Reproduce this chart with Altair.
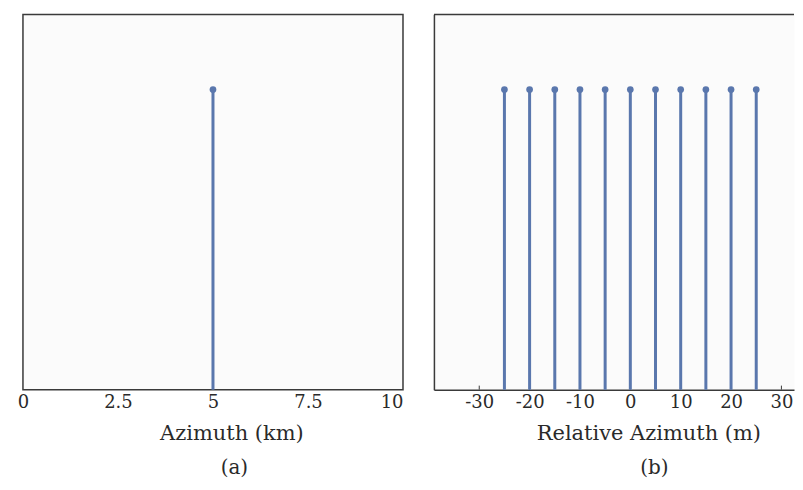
import altair as alt
import pandas as pd

# ---- data ----
azimuth_a = [5]
amp_a = [0.8]
azimuth_b = [-25, -20, -15, -10, -5, 0, 5, 10, 15, 20, 25]
amp_b = [0.8, 0.8, 0.8, 0.8, 0.8, 0.8, 0.8, 0.8, 0.8, 0.8, 0.8]
ticks_a = [0, 2.5, 5, 7.5, 10]
ticks_b = [-30, -20, -10, 0, 10, 20, 30]
xtitle_a = "Azimuth (km)"
xtitle_b = "Relative Azimuth (m)"

STEM = "#5a77ad"
FRAME = "#3a3a3a"
FONT = "DejaVu Serif"
TXT = "#2a2a2a"
BG = "#fbfbfb"

W_A, W_B, H = 381, 361, 376

dfa = pd.DataFrame({"x": azimuth_a, "y": amp_a})
dfb = pd.DataFrame({"x": azimuth_b, "y": amp_b})
dft = pd.DataFrame({"x": [t for t in ticks_b if -39 <= t <= 32.5]})
dfone = pd.DataFrame({"k": [0]})

yscale = alt.Scale(domain=[0, 1], nice=False, zero=True)

# ---- panel a ----
xa_scale = alt.Scale(domain=[0, 10], nice=False, zero=False)
xa_axis = alt.Axis(
    values=ticks_a, format=".1~f", title=xtitle_a, grid=False, ticks=False, domain=False,
    labelAlign=alt.ExprRef(expr="datum.value == 10 ? 'right' : 'center'"),
    labelPadding=4, titlePadding=11, titleX=209,
    labelFont=FONT, titleFont=FONT, labelFontSize=18, titleFontSize=21,
    titleFontWeight="normal", labelColor=TXT, titleColor=TXT,
)
stems_a = alt.Chart(dfa).mark_rule(color=STEM, strokeWidth=3).encode(
    x=alt.X("x:Q", scale=xa_scale, axis=xa_axis),
    y=alt.Y("y:Q", scale=yscale, axis=None),
    y2=alt.datum(0),
)
dots_a = alt.Chart(dfa).mark_circle(color=STEM, size=45, opacity=1).encode(
    x=alt.X("x:Q", scale=xa_scale, axis=xa_axis),
    y=alt.Y("y:Q", scale=yscale, axis=None),
)
panel_a = alt.layer(stems_a, dots_a).properties(
    width=W_A, height=H,
    view=alt.ViewBackground(stroke=FRAME, strokeWidth=1.5, fill=BG),
    title=alt.TitleParams("(a)", orient="bottom", anchor="start", frame="group",
                          align="center", dx=212, offset=15, font=FONT,
                          fontSize=20, fontWeight="normal", color=TXT),
)

# ---- panel b ----
xb_scale = alt.Scale(domain=[-39, 32.5], nice=False, zero=False)
xb_axis = alt.Axis(
    values=ticks_b, labelExpr="datum.value + ''", title=xtitle_b,
    grid=False, ticks=False, domain=True,
    domainColor=FRAME, domainWidth=1.5,
    labelPadding=4, titlePadding=11, titleX=215,
    labelFont=FONT, titleFont=FONT, labelFontSize=18, titleFontSize=21,
    titleFontWeight="normal", labelColor=TXT, titleColor=TXT,
)
yb_axis = alt.Axis(labels=False, ticks=False, grid=False, domain=True,
                   domainColor=FRAME, domainWidth=1.5, title=None)

top_border = alt.Chart(dfone).mark_rule(color=FRAME, strokeWidth=1.5).encode(
    x=alt.value(0), x2=alt.value(W_B), y=alt.value(0),
)
ticks_mark_b = alt.Chart(dft).mark_rule(color=FRAME, strokeWidth=1).encode(
    x=alt.X("x:Q", scale=xb_scale, axis=xb_axis),
    y=alt.value(H),
    y2=alt.value(H - 4),
)
stems_b = alt.Chart(dfb).mark_rule(color=STEM, strokeWidth=3).encode(
    x=alt.X("x:Q", scale=xb_scale, axis=xb_axis),
    y=alt.Y("y:Q", scale=yscale, axis=yb_axis),
    y2=alt.datum(0),
)
dots_b = alt.Chart(dfb).mark_circle(color=STEM, size=45, opacity=1).encode(
    x=alt.X("x:Q", scale=xb_scale, axis=xb_axis),
    y=alt.Y("y:Q", scale=yscale, axis=yb_axis),
)
panel_b = alt.layer(ticks_mark_b, stems_b, dots_b, top_border).properties(
    width=W_B, height=H,
    view=alt.ViewBackground(strokeOpacity=0, fill=BG),
    title=alt.TitleParams("(b)", orient="bottom", anchor="start", frame="group",
                          align="center", dx=221, offset=15, font=FONT,
                          fontSize=20, fontWeight="normal", color=TXT),
)

chart = alt.hconcat(panel_a, panel_b, spacing=29).resolve_scale(x="independent")
chart = chart.properties(
    padding={"left": 8, "top": 5, "right": 0, "bottom": 0},
    background="white",
)

chart.save("out.html", embed_options={"renderer": "svg", "actions": False})
